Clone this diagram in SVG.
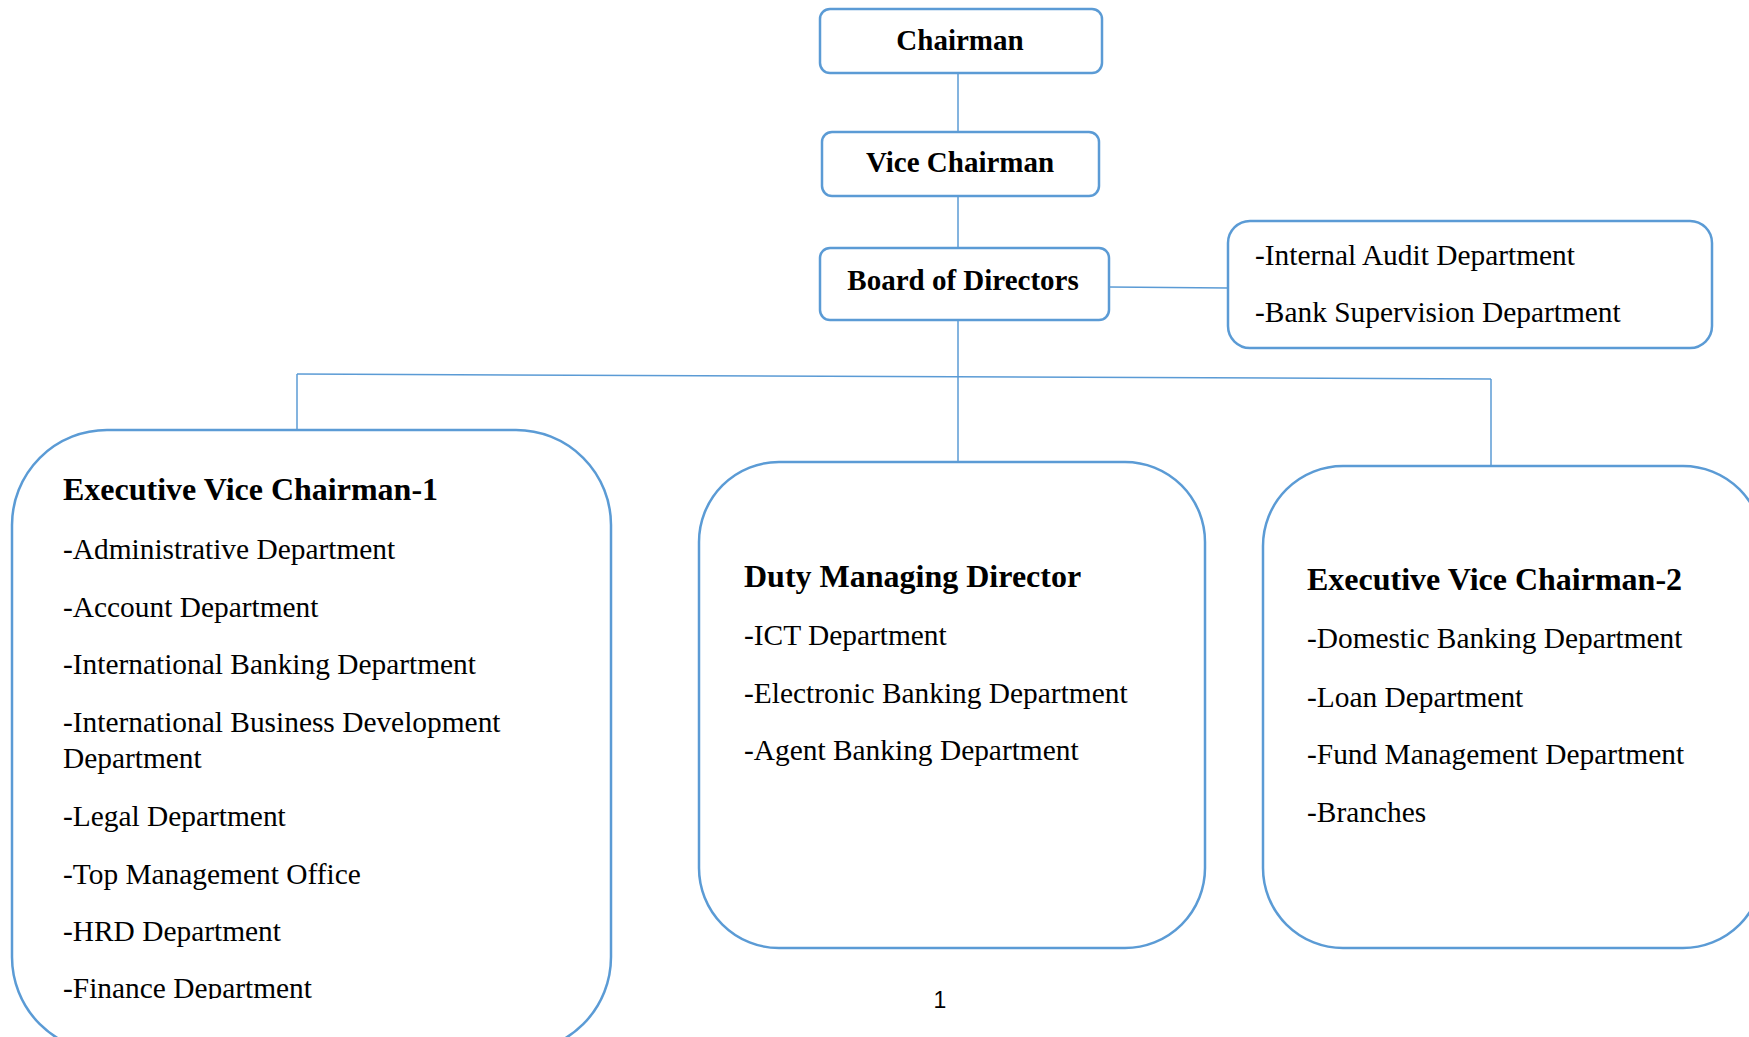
<svg xmlns="http://www.w3.org/2000/svg" width="1749" height="1037" viewBox="0 0 1749 1037">
<style>
.box{fill:#ffffff;stroke:#5B9BD5;stroke-width:2.5}
.con{fill:none;stroke:#5B9BD5;stroke-width:1.5}
.t{font-family:"Liberation Serif","Times New Roman",serif;font-size:29.4px;fill:#000}
.b{font-weight:bold;font-size:29px}
.h{font-family:"Liberation Serif","Times New Roman",serif;font-size:32px;font-weight:bold;fill:#000}
.pg{font-family:"Liberation Sans",Arial,sans-serif;font-size:23px;fill:#000}
</style>
<defs>
<clipPath id="clip1"><rect x="0" y="0" width="1749" height="999"/></clipPath>
</defs>
<rect width="1749" height="1037" fill="#ffffff"/>
<g id="connectors">
<line class="con" x1="958" y1="73" x2="958" y2="132"/>
<line class="con" x1="958" y1="196" x2="958" y2="248"/>
<line class="con" x1="1109" y1="287" x2="1228" y2="288"/>
<line class="con" x1="958" y1="316" x2="958" y2="464"/>
<line class="con" x1="297" y1="374" x2="1491" y2="379"/>
<line class="con" x1="297" y1="374" x2="297" y2="430"/>
<line class="con" x1="1491" y1="379" x2="1491" y2="466"/>
</g>
<g id="chairman">
<rect class="box" x="820" y="9" width="282" height="64" rx="10"/>
<text class="t b" x="960" y="50" text-anchor="middle">Chairman</text>
</g>
<g id="vice-chairman">
<rect class="box" x="822" y="132" width="277" height="64" rx="10"/>
<text class="t b" x="960" y="172" text-anchor="middle">Vice Chairman</text>
</g>
<g id="board">
<rect class="box" x="820" y="248" width="289" height="72" rx="10"/>
<text class="t b" x="963" y="290" text-anchor="middle">Board of Directors</text>
</g>
<g id="audit">
<rect class="box" x="1228" y="221" width="484" height="127" rx="22"/>
<text class="t" x="1255" y="265">-Internal Audit Department</text>
<text class="t" x="1255" y="322">-Bank Supervision Department</text>
</g>
<g id="evc1">
<rect class="box" x="12" y="430" width="599" height="622" rx="95"/>
<text class="h" x="63" y="500">Executive Vice Chairman-1</text>
<text class="t" x="63" y="559">-Administrative Department</text>
<text class="t" x="63" y="617">-Account Department</text>
<text class="t" x="63" y="674">-International Banking Department</text>
<text class="t" x="63" y="732">-International Business Development</text>
<text class="t" x="63" y="768">Department</text>
<text class="t" x="63" y="826">-Legal Department</text>
<text class="t" x="63" y="884">-Top Management Office</text>
<text class="t" x="63" y="941">-HRD Department</text>
<text class="t" x="63" y="998" clip-path="url(#clip1)">-Finance Department</text>
</g>
<g id="dmd">
<rect class="box" x="699" y="462" width="506" height="486" rx="80"/>
<text class="h" x="744" y="587">Duty Managing Director</text>
<text class="t" x="744" y="645">-ICT Department</text>
<text class="t" x="744" y="703">-Electronic Banking Department</text>
<text class="t" x="744" y="760">-Agent Banking Department</text>
</g>
<g id="evc2">
<rect class="box" x="1263" y="466" width="500" height="482" rx="80"/>
<text class="h" x="1307" y="590">Executive Vice Chairman-2</text>
<text class="t" x="1307" y="648">-Domestic Banking Department</text>
<text class="t" x="1307" y="707">-Loan Department</text>
<text class="t" x="1307" y="764">-Fund Management Department</text>
<text class="t" x="1307" y="822">-Branches</text>
</g>
<text class="pg" x="940" y="1008" text-anchor="middle">1</text>
</svg>
